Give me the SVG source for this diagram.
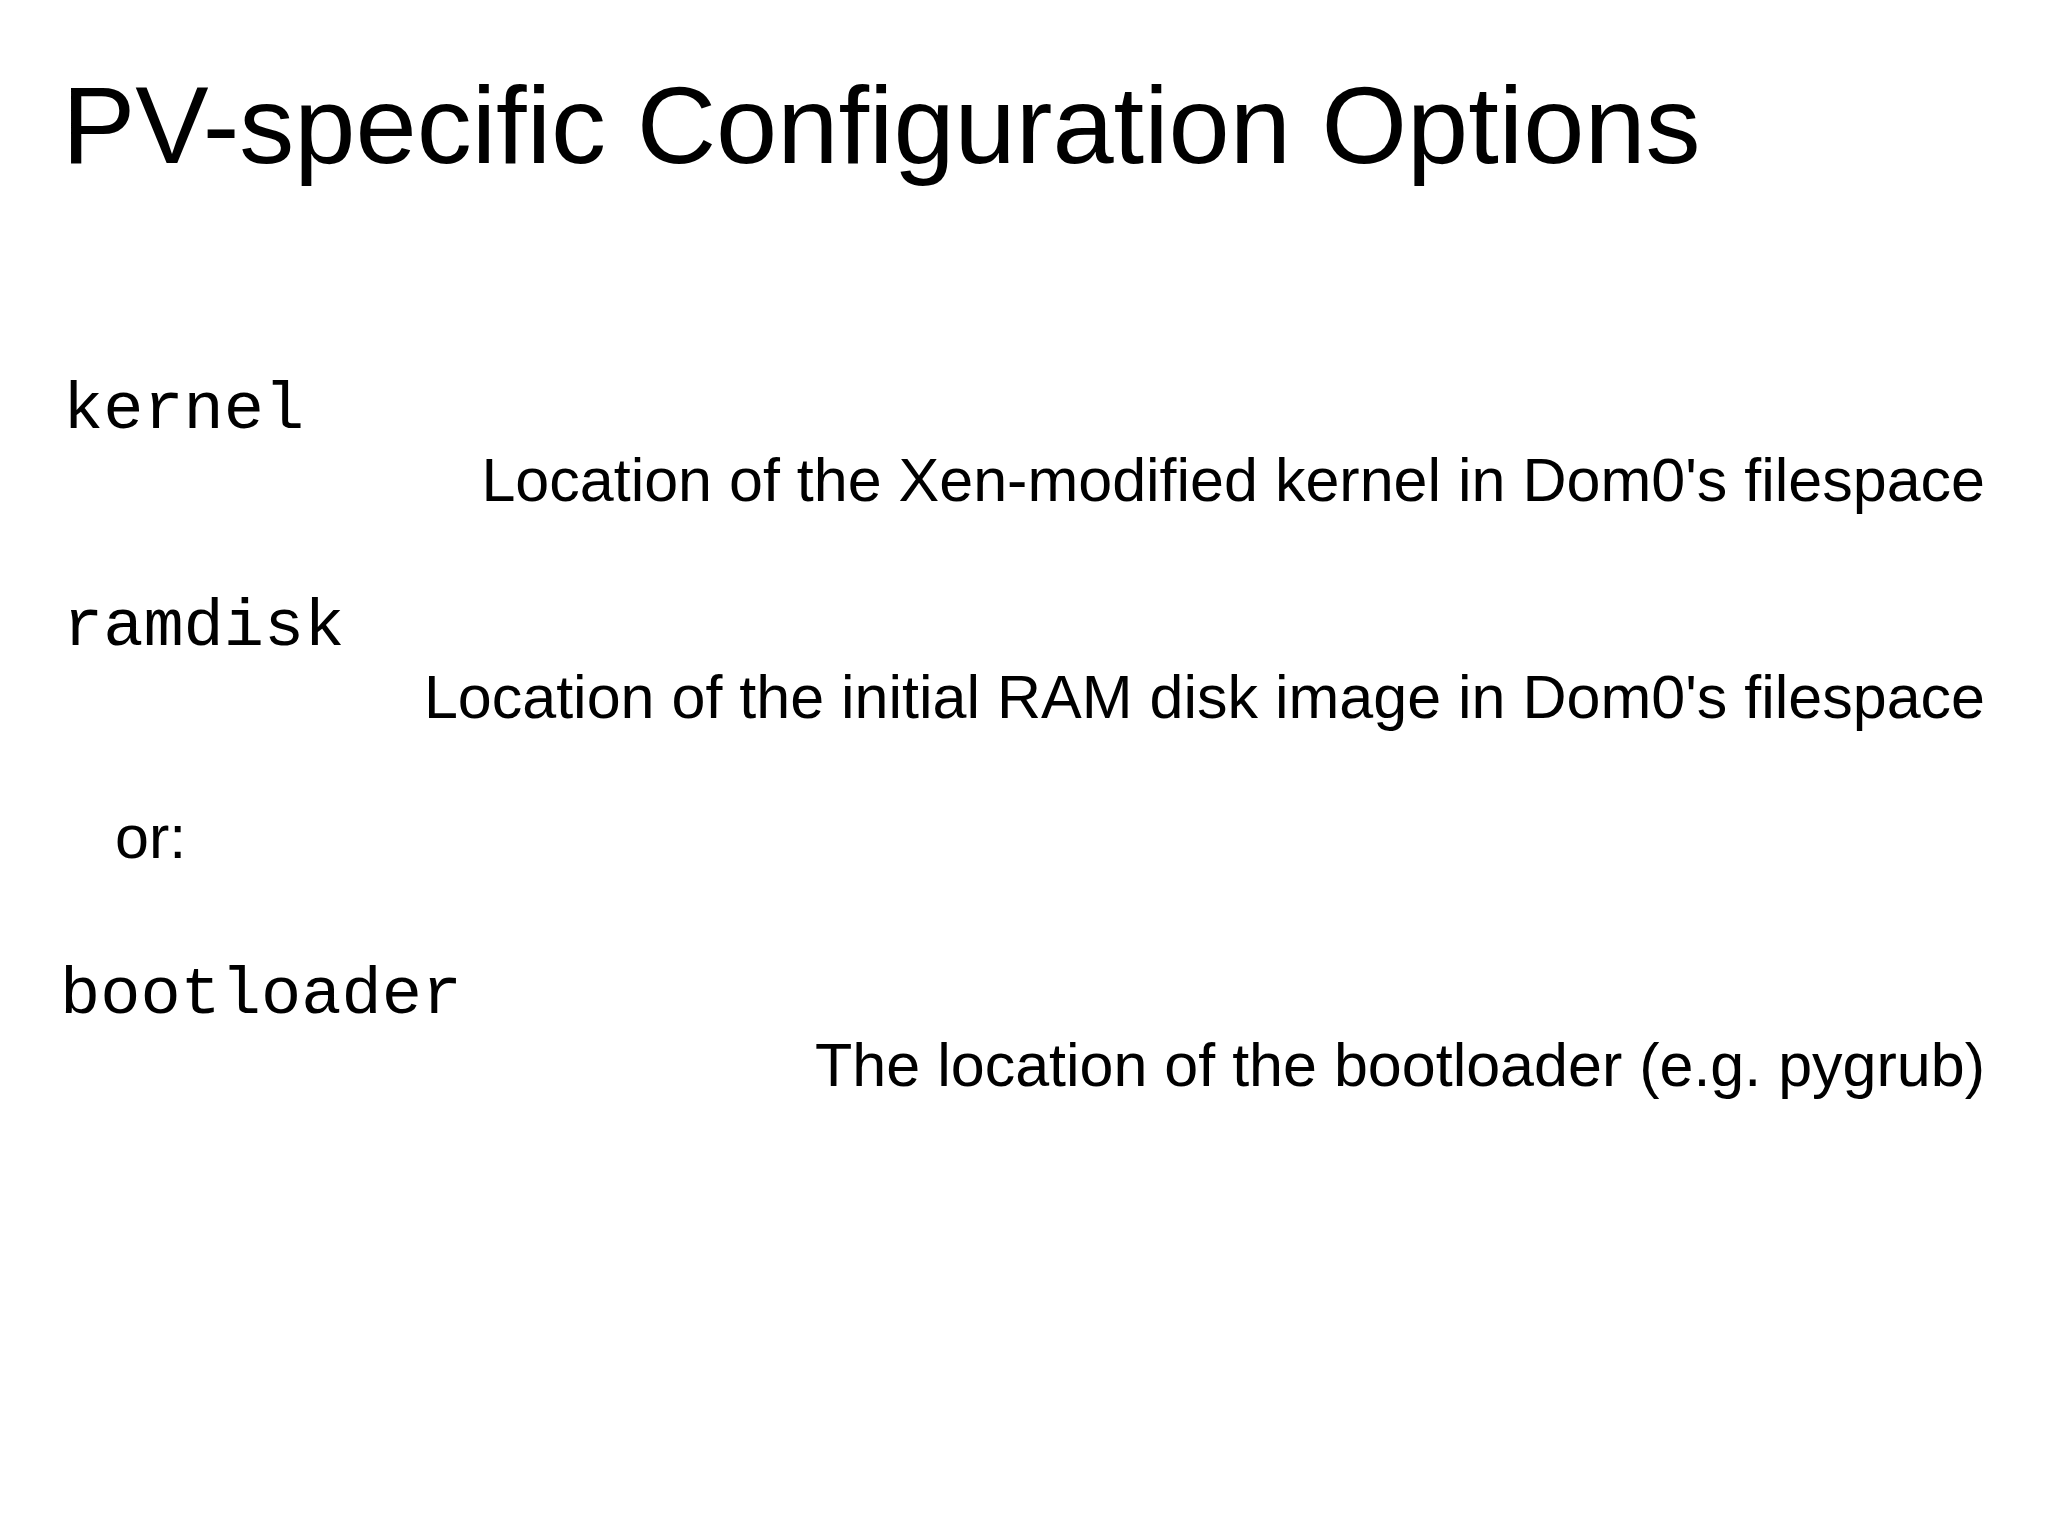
<svg xmlns="http://www.w3.org/2000/svg" width="2048" height="1536" viewBox="0 0 2048 1536">
<style>
.t{font-family:"Liberation Sans",Arial,sans-serif;fill:#000}
.m{font-family:"Liberation Mono","Courier New",monospace;fill:#000;font-size:67px}
.d{font-family:"Liberation Sans",Arial,sans-serif;fill:#000;font-size:61px;text-anchor:end}
</style>
<rect width="2048" height="1536" fill="#fff"/>
<text class="t" x="62" y="163" font-size="110">PV-specific Configuration Options</text>
<g id="kernel"><text class="m" x="63" y="428">kernel</text>
<text class="d" x="1985" y="501">Location of the Xen-modified kernel in Dom0's filespace</text></g>
<g id="ramdisk"><text class="m" x="63" y="645">ramdisk</text>
<text class="d" x="1985" y="718">Location of the initial RAM disk image in Dom0's filespace</text></g>
<text class="t" x="115" y="858" font-size="61">or:</text>
<g id="bootloader"><text class="m" x="60" y="1013">bootloader</text>
<text class="d" x="1985" y="1086">The location of the bootloader (e.g. pygrub)</text></g>
</svg>
